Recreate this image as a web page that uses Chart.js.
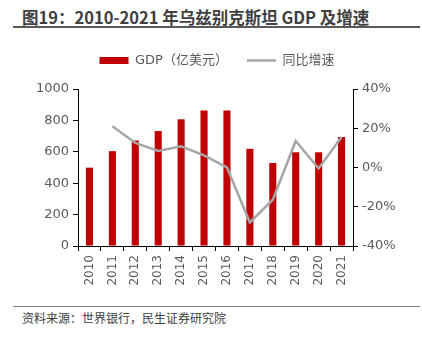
<!DOCTYPE html>
<html>
<head>
<meta charset="utf-8">
<script src="https://cdn.jsdelivr.net/npm/chart.js@4"></script>
<style>
  html, body { margin: 0; padding: 0; background: #fff; }
  body { width: 422px; height: 337px; position: relative; overflow: hidden;
         font-family: "DejaVu Sans", "Noto Sans CJK SC", sans-serif; }
  #title { position: absolute; left: 22px; top: 5px; font-size: 16.5px; font-weight: bold;
           color: #404040; font-family: "Noto Sans CJK SC", sans-serif; white-space: nowrap; line-height: 24px; }
  #topLine { position: absolute; left: 13px; top: 26px; width: 407px; height: 2px; background: #595959; }
  #bottomLine { position: absolute; left: 13px; top: 306px; width: 407px; height: 1px; background: #7f7f7f; }
  #source { position: absolute; left: 22px; top: 310px; font-size: 12px; color: #404040;
            font-family: "Noto Sans CJK SC", sans-serif; white-space: nowrap; line-height: 16px; }
  #wrap { position: absolute; left: 0; top: 35px; width: 422px; height: 270px; }
</style>
</head>
<body>
<div id="title">图19：2010-2021 年乌兹别克斯坦 GDP 及增速</div>
<div id="topLine"></div>
<div id="wrap"><canvas id="gdpChart"></canvas></div>
<div id="bottomLine"></div>
<div id="source">资料来源：世界银行，民生证券研究院</div>

<script>
// Data
const years = ['2010', '2011', '2012', '2013', '2014', '2015', '2016', '2017', '2018', '2019', '2020', '2021'];
const gdp = [499, 604, 672, 732, 807, 863, 863, 619, 529, 597, 597, 694];   // 亿美元
const growth = [null, 21, 12.5, 8.4, 10.8, 6.2, 0, -28, -16.4, 13.5, -0.5, 15.5];  // %

const FONT = '"DejaVu Sans", "Noto Sans CJK SC", sans-serif';
const TEXT_COLOR = '#595959';

// make the legend box taller so the plot starts lower, and nudge it right
const legendSpacer = {
  id: 'legendSpacer',
  beforeInit(chart) {
    const fit = chart.legend.fit;
    chart.legend.fit = function () {
      fit.bind(chart.legend)();
      this.height += 12;
    };
  },
  afterLayout(chart) {
    chart.legend.left += 6;
    chart.legend.right += 6;
  }
};

const ctx = document.getElementById('gdpChart').getContext('2d');

new Chart(ctx, {
  data: {
    labels: years,
    datasets: [
      {
        type: 'bar',
        label: 'GDP（亿美元）',
        data: gdp,
        backgroundColor: '#C00000',
        barPercentage: 0.62,
        categoryPercentage: 0.5,
        pointStyle: 'rect',
        yAxisID: 'y',
        order: 2
      },
      {
        type: 'line',
        label: '同比增速',
        data: growth,
        borderColor: '#A6A6A6',
        backgroundColor: '#A6A6A6',
        borderWidth: 2.5,
        pointRadius: 0,
        pointStyle: 'line',
        tension: 0,
        yAxisID: 'y1',
        order: 1
      }
    ]
  },
  plugins: [legendSpacer],
  options: {
    responsive: true,
    maintainAspectRatio: false,
    animation: false,
    layout: { padding: { left: 0, right: 0, top: 0, bottom: 0 } },
    plugins: {
      tooltip: { enabled: false },
      legend: {
        position: 'top',
        labels: {
          usePointStyle: true,
          pointStyleWidth: 29,
          boxHeight: 7,
          boxWidth: 29,
          padding: 19,
          color: TEXT_COLOR,
          font: { family: FONT, size: 13 },
          sort: (a, b) => a.datasetIndex - b.datasetIndex
        }
      }
    },
    scales: {
      x: {
        offset: true,
        grid: { offset: true, drawOnChartArea: false, drawTicks: true, tickLength: 5, color: '#000' },
        border: { color: '#000', width: 1 },
        ticks: {
          minRotation: 90, maxRotation: 90, padding: 4,
          color: TEXT_COLOR, font: { family: FONT, size: 12 }
        },
        afterFit: s => { s.height = 59; }
      },
      y: {
        position: 'left',
        min: 0, max: 1000,
        ticks: { stepSize: 200, padding: 4, color: TEXT_COLOR, font: { family: FONT, size: 13 },
                 callback: v => String(v) },
        grid: { drawOnChartArea: false, tickLength: 5, color: '#000' },
        border: { color: '#000', width: 1 },
        afterFit: s => { s.width = 78; }
      },
      y1: {
        position: 'right',
        min: -40, max: 40,
        ticks: { stepSize: 20, padding: 4, color: TEXT_COLOR, font: { family: FONT, size: 13 },
                 callback: v => v + '%' },
        grid: { drawOnChartArea: false, tickLength: 5, color: '#000' },
        border: { color: '#000', width: 1 },
        afterFit: s => { s.width = 69; }
      }
    }
  }
});
</script>
</body>
</html>
